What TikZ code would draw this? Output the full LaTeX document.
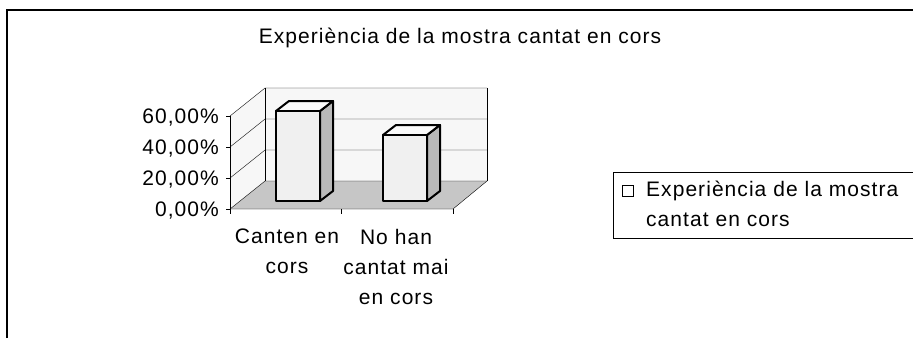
\documentclass[tikz,border=0pt]{standalone}
\usepackage{fontspec}
\setmainfont{Liberation Sans}[LetterSpace=5]
\begin{document}
\begin{tikzpicture}[x=1pt, y=-1pt,
    lbl/.style={font=\fontsize{21}{30}\selectfont, inner sep=0pt},
    barline/.style={line width=2pt, line join=round}]
\useasboundingbox (0,0) rectangle (913,338);

% frame and title
\draw[line width=1.2pt] (7,338) -- (7,10) -- (913,10);
\node[lbl, anchor=base] (title) at (460,43) {Experiència de la mostra cantat en cors};

% walls and floor
\fill[gray!6] (230,209) -- (230,116) -- (265,88) -- (487,88) -- (487,181) -- (265,181) -- cycle;
\fill[gray!45] (230,209) -- (453,209) -- (487,181) -- (265,181) -- cycle;
\foreach \v in {0, 1, 2, 3} {
    \draw (230,209-31*\v) -- (265,181-31*\v) -- (487,181-31*\v);
}
\draw (265,88) -- (265,181);
\draw (487,88) -- (487,181);
\draw (230,209) -- (453,209) -- (487,181);
\draw[line width=1pt] (230,116) -- (230,209);

% value axis
\foreach \v/\t in {0/0, 1/20, 2/40, 3/60} {
    \draw (226,209-31*\v) -- (230,209-31*\v);
    \node[lbl, anchor=base east] (y\t) at (219,209-31*\v+7) {\t,00\%};
}
\foreach \x in {230, 341, 453} {
    \draw (\x,209) -- (\x,214);
}

% bars
\foreach \l/\h in {276/111, 383/135} {
    \filldraw[barline, fill=gray!55] (\l+44,201) -- (\l+57,191) -- (\l+57,\h-10) -- (\l+44,\h) -- cycle;
    \filldraw[barline, fill=gray!4] (\l,\h) -- (\l+13,\h-10) -- (\l+57,\h-10) -- (\l+44,\h) -- cycle;
    \filldraw[barline, fill=gray!12] (\l,201) rectangle (\l+44,\h);
}

% categories
\node[lbl, anchor=north, align=center] (cat1) at (287,229) {Canten en\\cors};
\node[lbl, anchor=north, align=center] (cat2) at (396,229) {No han\\cantat mai\\en cors};

% legend
\draw (913,172) -- (613,172) -- (613,238) -- (913,238);
\draw[line width=1pt] (622,185) rectangle (633,196);
\node[lbl, anchor=base west, align=left] (leg) at (646,226) {Experiència de la mostra\\cantat en cors};
\end{tikzpicture}
\end{document}
